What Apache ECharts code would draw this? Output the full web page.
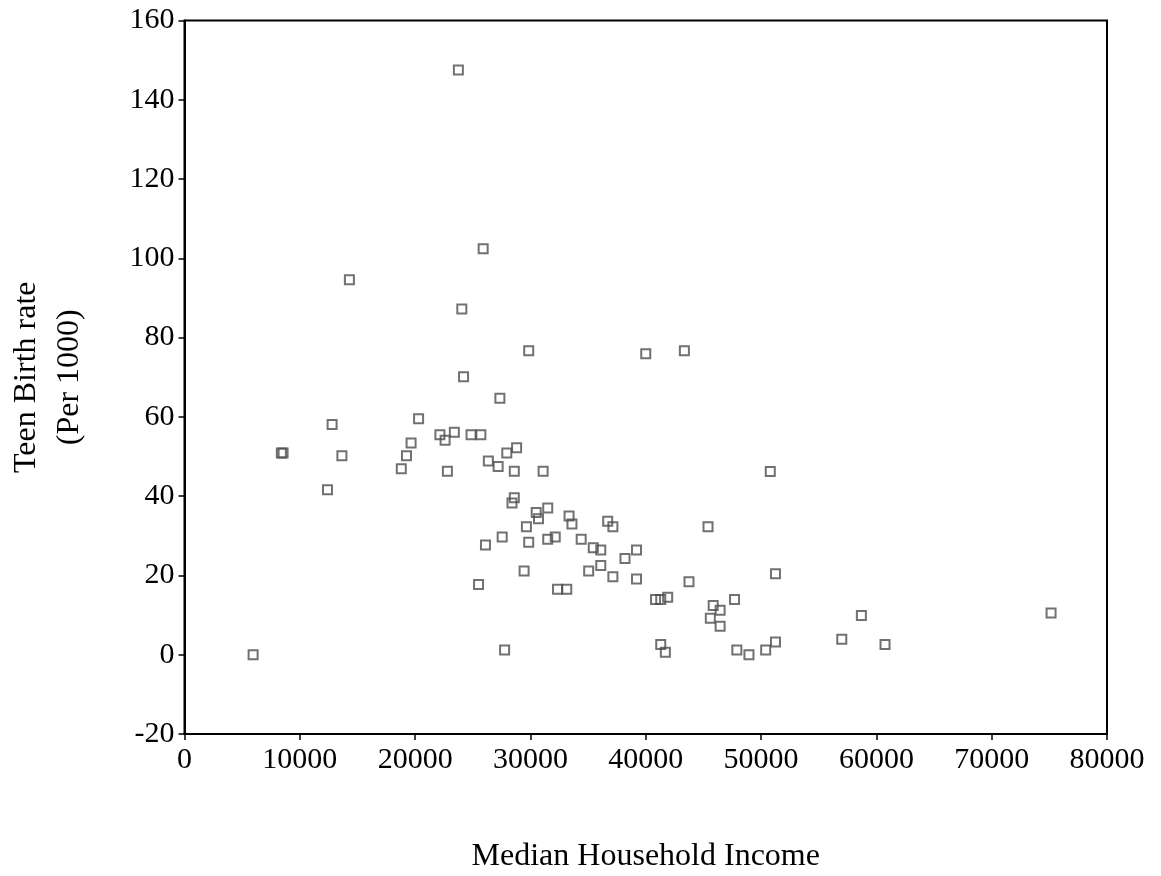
<!DOCTYPE html>
<html>
<head>
    <meta charset="utf-8">
    <title>Teen Birth rate vs Median Household Income</title>
    <script src="https://cdn.jsdelivr.net/npm/echarts@6/dist/echarts.min.js"></script>
</head>
<body style="margin:0;background:#fff;">
<div id="main" style="width: 1161px;height:876px;"></div>
<script type="text/javascript">
  // median household income (x) and teen birth rate per 1000 (y)
  var income = [
    5950, 27760, 25900, 14300, 24050, 29850, 24200, 27350, 20300, 12800,
    22150, 23400, 22600, 24850, 25700, 19650, 8550, 8400, 13650, 19250,
    28800, 27950, 26350, 27200, 18800, 22800, 28600, 31100, 12400, 23750,
    28600, 28400, 31500, 30500, 30700, 33350, 33600, 29650, 27550, 29850,
    31500, 32150, 34400, 26100, 29450, 25500, 32350, 33150, 40000, 43350,
    50800, 45400, 36700, 37150, 35450, 36100, 39200, 38200, 35050, 36100,
    37150, 39200, 43750, 51250, 40850, 41300, 41900, 45850, 46450, 47700,
    45600, 46450, 58700, 57000, 60750, 41300, 41700, 47900, 48950, 50400,
    51250, 75150
  ];
  var birthRate = [
    0, 1.2, 102.4, 94.6, 87.2, 76.7, 70.1, 64.7, 59.5, 58.1,
    55.5, 56.1, 54.1, 55.5, 55.5, 53.4, 50.9, 50.9, 50.2, 50.2,
    52.2, 50.9, 48.9, 47.5, 46.9, 46.3, 46.3, 46.3, 41.6, 147.5,
    39.6, 38.3, 37.0, 35.9, 34.3, 35.0, 33.0, 32.3, 29.7, 28.4,
    29.1, 29.7, 29.1, 27.7, 21.1, 17.7, 16.5, 16.5, 75.9, 76.7,
    46.2, 32.3, 33.7, 32.3, 27.0, 26.4, 26.4, 24.3, 21.1, 22.5,
    19.7, 19.1, 18.4, 20.4, 13.9, 13.9, 14.5, 12.4, 11.2, 13.9,
    9.2, 7.2, 9.9, 3.9, 2.6, 2.6, 0.6, 1.2, 0, 1.2,
    3.2, 10.5
  ];

  var points = income.map(function (x, i) { return [x, birthRate[i]]; });

  var font = '"Liberation Serif", "Times New Roman", serif';
  var myChart = echarts.init(document.getElementById('main'));

  var option = {
    backgroundColor: '#fff',
    animation: false,
    grid: {
      left: 184.5,
      right: 54,
      top: 20.5,
      bottom: 142,
      containLabel: false,
      outerBoundsMode: 'none',
      show: true,
      borderColor: '#000',
      borderWidth: 2,
      backgroundColor: 'transparent'
    },
    xAxis: {
      type: 'value',
      min: 0,
      max: 80000,
      interval: 10000,
      name: 'Median Household Income',
      nameLocation: 'middle',
      nameGap: 107,
      nameTextStyle: { fontFamily: font, fontSize: 32, color: '#000' },
      axisLine: { show: true, onZero: false, lineStyle: { color: '#000', width: 2 } },
      axisTick: { show: true, length: 6, lineStyle: { color: '#000', width: 1.5 } },
      axisLabel: {
        fontFamily: font, fontSize: 30, color: '#000', margin: 11,
        formatter: function (v) { return String(v); }
      },
      splitLine: { show: false }
    },
    yAxis: {
      type: 'value',
      min: -20,
      max: 160,
      interval: 20,
      name: 'Teen Birth rate\n(Per 1000)',
      nameLocation: 'middle',
      nameRotate: 90,
      nameGap: 93,
      nameTextStyle: { fontFamily: font, fontSize: 32, color: '#000', lineHeight: 43 },
      axisLine: { show: true, onZero: false, lineStyle: { color: '#000', width: 2 } },
      axisTick: { show: true, length: 6, lineStyle: { color: '#000', width: 1.5 } },
      axisLabel: { fontFamily: font, fontSize: 30, color: '#000', margin: 10 },
      splitLine: { show: false }
    },
    series: [{
      type: 'scatter',
      data: points,
      symbol: 'rect',
      symbolSize: 9,
      itemStyle: {
        color: 'rgba(255,255,255,0)',
        borderColor: '#4d4d4d',
        borderWidth: 2
      }
    }]
  };
  myChart.setOption(option);
</script>
</body>
</html>
